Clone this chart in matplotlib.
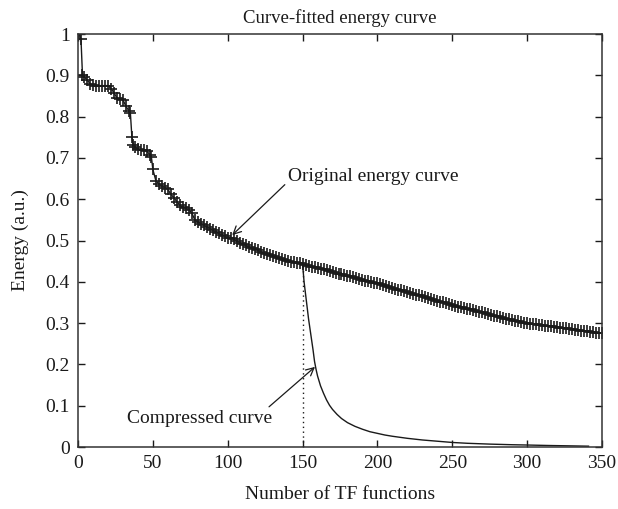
import matplotlib
matplotlib.use("Agg")
import matplotlib.pyplot as plt

plt.rcParams['font.family'] = ['Liberation Serif', 'DejaVu Serif']

# Original energy curve (early, step-like part)
x_early = [1, 2, 3, 4, 6, 8, 10, 12, 14, 16, 18, 20, 22, 24, 26, 28, 30, 32, 34, 35,
           36, 37, 38, 40, 42, 44, 46, 48, 49, 50, 52, 54, 56, 58, 60, 62, 64, 66, 68, 70,
           72, 74, 76, 78, 80, 82, 84, 86, 88, 90, 92, 94, 96, 98, 100, 102, 104, 106, 108, 110,
           112, 114, 116, 118, 120, 122, 124, 126, 128, 130, 132, 134, 136, 138, 140, 142, 144, 146, 148, 150]
y_early = [1.0, 0.987, 0.900, 0.897, 0.889, 0.880, 0.876, 0.875, 0.875, 0.875, 0.875, 0.875, 0.868, 0.858, 0.845, 0.842, 0.841, 0.825, 0.814, 0.808,
           0.750, 0.731, 0.727, 0.721, 0.719, 0.718, 0.716, 0.708, 0.703, 0.672, 0.645, 0.637, 0.632, 0.628, 0.624, 0.612, 0.604, 0.594, 0.586, 0.580,
           0.578, 0.574, 0.567, 0.550, 0.545, 0.541, 0.537, 0.533, 0.529, 0.525, 0.521, 0.517, 0.513, 0.510, 0.507, 0.505, 0.503, 0.499, 0.495, 0.491,
           0.488, 0.485, 0.482, 0.479, 0.477, 0.473, 0.470, 0.467, 0.465, 0.463, 0.460, 0.457, 0.454, 0.452, 0.450, 0.448, 0.447, 0.446, 0.445, 0.443]

# Original energy curve (late, smooth part)
x_late = list(range(152, 351, 2))
y_late = [0.441, 0.439, 0.437, 0.436, 0.434, 0.432, 0.430, 0.428, 0.426, 0.424,
          0.422, 0.420, 0.418, 0.417, 0.415, 0.413, 0.411, 0.409, 0.407, 0.405,
          0.403, 0.401, 0.399, 0.398, 0.396, 0.394, 0.392, 0.389, 0.387, 0.385,
          0.383, 0.381, 0.379, 0.377, 0.375, 0.373, 0.371, 0.369, 0.367, 0.365,
          0.363, 0.360, 0.358, 0.356, 0.354, 0.352, 0.350, 0.348, 0.346, 0.344,
          0.342, 0.340, 0.338, 0.337, 0.335, 0.333, 0.331, 0.329, 0.328, 0.326,
          0.324, 0.322, 0.320, 0.318, 0.316, 0.314, 0.313, 0.311, 0.309, 0.307,
          0.306, 0.304, 0.303, 0.301, 0.300, 0.299, 0.298, 0.297, 0.296, 0.295,
          0.294, 0.293, 0.292, 0.291, 0.290, 0.289, 0.288, 0.287, 0.286, 0.285,
          0.284, 0.283, 0.282, 0.281, 0.280, 0.279, 0.278, 0.277, 0.276, 0.275]

# Compressed curve
x_comp = [150, 151, 152, 153, 154, 155, 156, 157, 158, 159, 160, 162, 164, 166, 168, 170,
          173, 176, 180, 185, 190, 195, 200, 205, 210, 220, 230, 240, 250, 260, 275, 290,
          300, 315, 330, 341]
y_comp = [0.443, 0.400, 0.370, 0.340, 0.310, 0.285, 0.260, 0.235, 0.207, 0.188, 0.172, 0.148,
          0.130, 0.114, 0.101, 0.091, 0.079, 0.069, 0.059, 0.050, 0.043, 0.037, 0.033, 0.029,
          0.026, 0.021, 0.017, 0.014, 0.011, 0.009, 0.007, 0.0055, 0.0048, 0.0036, 0.0027, 0.002]

cut_x = 150
cut_y = 0.443

x_ticks = [0, 50, 100, 150, 200, 250, 300, 350]
y_ticks = [0, 0.1, 0.2, 0.3, 0.4, 0.5, 0.6, 0.7, 0.8, 0.9, 1]
y_ticklabels = ['0', '0.1', '0.2', '0.3', '0.4', '0.5', '0.6', '0.7', '0.8', '0.9', '1']

fig = plt.figure(figsize=(6.18, 5.09), dpi=100)
ax = fig.add_axes([78/618, 1 - 447/509, (602-78)/618, (447-34)/509])

col = '#1a1a1a'
ax.plot(x_early + x_late, y_early + y_late, color=col, lw=1.0, marker='+',
        markersize=8, markeredgewidth=1.2)
ax.plot(x_comp, y_comp, color=col, lw=1.0)
ax.plot([cut_x, cut_x], [0, cut_y], color=col, lw=1.0, linestyle=(0, (1, 2.5)))

ax.set_xlim(0, 350)
ax.set_ylim(0, 1)
ax.set_xticks(x_ticks)
ax.set_yticks(y_ticks)
ax.set_yticklabels(y_ticklabels)
ax.tick_params(direction='in', top=True, right=True, length=5, width=1,
               labelsize=14, colors=col, pad=6)
for s in ax.spines.values():
    s.set_linewidth(1.1)
    s.set_color('#333333')

ax.set_title('Curve-fitted energy curve', fontsize=13.5, color=col, pad=8)
ax.set_xlabel('Number of TF functions', fontsize=14, color=col, labelpad=10)
ax.set_ylabel('Energy (a.u.)', fontsize=14, color=col, labelpad=12)

ax.annotate('Original energy curve', xy=(103, 0.513), xytext=(140, 0.654),
            fontsize=14, color=col, va='center', ha='left',
            arrowprops=dict(arrowstyle='->', color=col, lw=0.9,
                            shrinkA=0, shrinkB=0, relpos=(0, 0.2)))
ax.annotate('Compressed curve', xy=(158.3, 0.194), xytext=(32.7, 0.070),
            fontsize=14, color=col, va='center', ha='left',
            arrowprops=dict(arrowstyle='->', color=col, lw=0.9,
                            shrinkA=0, shrinkB=0, relpos=(0.93, 0.8)))

fig.savefig('out.png', dpi=100, facecolor='white')
